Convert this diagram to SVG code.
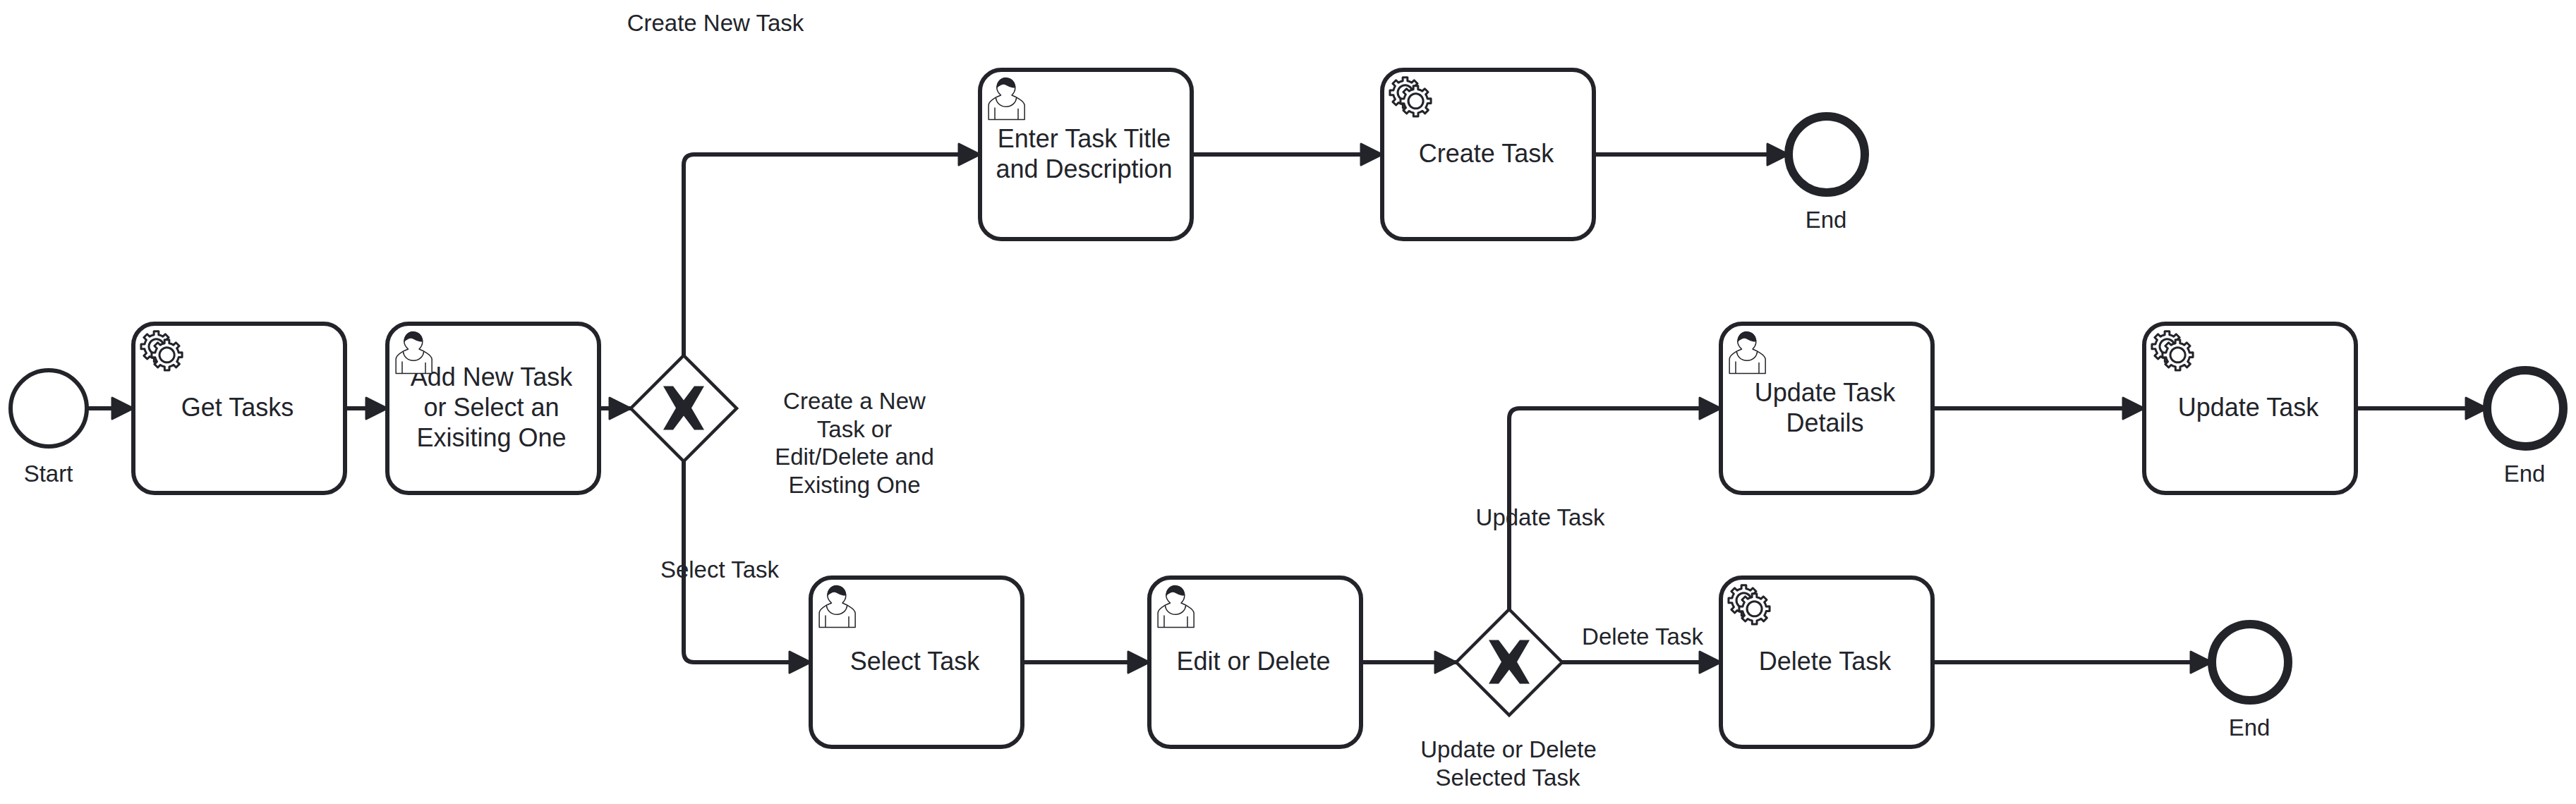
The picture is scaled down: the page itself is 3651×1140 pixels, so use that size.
<svg xmlns="http://www.w3.org/2000/svg" width="3651" height="1140" viewBox="0 0 3651 1140">
<style>
text{font-family:"Liberation Sans",Arial,sans-serif;fill:#22242a;text-anchor:middle}
.t{font-size:36px}
.l{font-size:33px}
.task{fill:#fff;stroke:#22242a;stroke-width:6}
.start{fill:#fff;stroke:#22242a;stroke-width:6}
.end{fill:#fff;stroke:#22242a;stroke-width:12}
.gw{fill:#fff;stroke:#22242a;stroke-width:4.5;stroke-linejoin:miter}
.x{fill:#22242a}
.flow{fill:none;stroke:#22242a;stroke-width:6;stroke-linejoin:round;marker-end:url(#arrow)}
.ib{fill:#fff;stroke:#22242a;stroke-width:1;stroke-linecap:round;stroke-linejoin:round}
.iu{fill:#fff;stroke:#22242a;stroke-width:.5;stroke-linecap:round;stroke-linejoin:round}
.ih{fill:#22242a;stroke:#22242a;stroke-width:.5}
</style>
<defs>
<marker id="arrow" viewBox="0 0 20 20" refX="11" refY="10" markerWidth="10" markerHeight="10" orient="auto">
<path d="M 1 5 L 11 10 L 1 15 Z" fill="#22242a" stroke="#22242a" stroke-width="1" stroke-linecap="round" stroke-linejoin="round"/>
</marker>
<path id="gearPath" d="m 0,0 v -1.71335 c 0.352326,-0.0705 0.703932,-0.17838 1.047628,-0.32133 0.344416,-0.14465 0.665822,-0.32133 0.966377,-0.52145 l 1.19431,1.18005 1.567487,-1.57688 -1.195028,-1.18014 c 0.403376,-0.61394 0.683079,-1.29908 0.825447,-2.01824 l 1.622133,-0.01 v -2.2196 l -1.636514,0.01 c -0.07333,-0.35153 -0.178319,-0.70024 -0.323564,-1.04372 -0.145244,-0.34406 -0.321407,-0.6644 -0.522735,-0.96217 l 1.131035,-1.13631 -1.583305,-1.56293 -1.129598,1.13589 c -0.614052,-0.40108 -1.302883,-0.68093 -2.022633,-0.82247 l 0.0093,-1.61852 h -2.241173 l 0.0042,1.63124 c -0.353763,0.0736 -0.705369,0.17977 -1.049785,0.32371 -0.344415,0.14437 -0.665102,0.32092 -0.9635006,0.52046 l -1.1698628,-1.15823 -1.5667691,1.5792 1.1684265,1.15669 c -0.4026573,0.61283 -0.68308,1.29797 -0.8247287,2.01713 l -1.6588041,0.003 v 2.22174 l 1.6724648,-0.006 c 0.073327,0.35077 0.1797598,0.70243 0.3242851,1.04472 0.1452428,0.34448 0.3214064,0.6644 0.5227339,0.96066 l -1.1993431,1.19723 1.5840256,1.56011 1.1964668,-1.19348 c 0.6140517,0.40346 1.3028827,0.68232 2.0233517,0.82331 l 7.19e-4,1.69892 h 2.226848 z m 0.221462,-3.9957 c -1.788948,0.7502 -3.8576,-0.0928 -4.6097055,-1.87438 -0.7521065,-1.78321 0.090598,-3.84627 1.8802645,-4.59604 1.78823,-0.74936 3.856881,0.0929 4.608987,1.87437 0.752106,1.78165 -0.0906,3.84612 -1.879546,4.59605 z"/>
<g id="gear" transform="scale(3)">
<use href="#gearPath" x="12" y="18" class="ib"/>
<path d="m 17.2,18 c -1.788948,0.7502 -3.8576,-0.0928 -4.6097055,-1.87438 -0.7521065,-1.78321 0.090598,-3.84627 1.8802645,-4.59604 1.78823,-0.74936 3.856881,0.0929 4.608987,1.87437 0.752106,1.78165 -0.0906,3.84612 -1.879546,4.59605 z" fill="#fff"/>
<use href="#gearPath" x="17" y="22" class="ib"/>
</g>
<g id="user" transform="scale(3)">
<path class="iu" d="m 15,12 c 0.909,-0.845 1.594,-2.049 1.594,-3.385 0,-2.554 -1.805,-4.62199999 -4.357,-4.62199999 -2.55199998,0 -4.28799998,2.06799999 -4.28799998,4.62199999 0,1.348 0.974,2.562 1.89599998,3.405 -0.52899998,0.187 -5.669,2.097 -5.794,4.7560005 v 6.718 h 17 v -6.718 c 0,-2.2980005 -5.5279996,-4.5950005 -6.0509996,-4.7760005 z m -8,6 l 0,5.5 m 11,0 l 0,-5"/>
<path class="iu" d="m 15,12 m 2.162,1.009 c 0,2.4470005 -2.158,4.4310005 -4.821,4.4310005 -2.66499998,0 -4.822,-1.981 -4.822,-4.4310005"/>
<path class="ih" d="m 15,12 m -6.9,-3.80 c 0,0 2.25099998,-2.358 4.27399998,-1.177 2.024,1.181 4.221,1.537 4.124,0.965 -0.098,-0.57 -0.117,-3.79099999 -4.191,-4.13599999 -3.57499998,0.001 -4.20799998,3.36699999 -4.20699998,4.34799999 z"/>
</g>
<polygon id="xmark" class="x" points="-29,-31 -15,-31 0,-11 15,-31 29,-31 11,0 29,31 15,31 0,11 -15,31 -29,31 -11,0"/>
</defs>

<g id="connectors">
<path class="flow" d="M123,579H189"/>
<path class="flow" d="M489,579H549"/>
<path class="flow" d="M849,579H894"/>
<path class="flow" d="M969,504V234Q969,219 984,219H1389"/>
<path class="flow" d="M969,654V924Q969,939 984,939H1149"/>
<path class="flow" d="M1689,219H1959"/>
<path class="flow" d="M2259,219H2535"/>
<path class="flow" d="M1449,939H1629"/>
<path class="flow" d="M1929,939H2064"/>
<path class="flow" d="M2139,864V594Q2139,579 2154,579H2439"/>
<path class="flow" d="M2214,939H2439"/>
<path class="flow" d="M2739,579H3039"/>
<path class="flow" d="M3339,579H3525"/>
<path class="flow" d="M2739,939H3135"/>
<text class="l" x="1014" y="44">Create New Task</text>
<text class="l" x="1020" y="819">Select Task</text>
<text class="l" x="2183" y="745">Update Task</text>
<text class="l" x="2328" y="914">Delete Task</text>
</g>

<g id="start"><circle class="start" cx="69" cy="579" r="54"/><text class="l" x="68.5" y="683">Start</text></g>

<g id="task-get"><rect class="task" x="189" y="459" width="300" height="240" rx="30"/><text class="t" x="336.5" y="590">Get Tasks</text><use href="#gear" transform="translate(189 459)"/></g>

<g id="task-add"><rect class="task" x="549" y="459" width="300" height="240" rx="30"/><text class="t" x="696.5" y="547">Add New Task</text><text class="t" x="696.5" y="590">or Select an</text><text class="t" x="696.5" y="633">Exisiting One</text><use href="#user" transform="translate(549 459)"/></g>

<g id="gateway-1"><polygon class="gw" points="969,504 1044,579 969,654 894,579"/><use href="#xmark" transform="translate(969 578.5)"/><text class="l" x="1211" y="580">Create a New</text><text class="l" x="1211" y="620">Task or</text><text class="l" x="1211" y="659">Edit/Delete and</text><text class="l" x="1211" y="699">Existing One</text></g>

<g id="task-enter"><rect class="task" x="1389" y="99" width="300" height="240" rx="30"/><text class="t" x="1536.5" y="209">Enter Task Title</text><text class="t" x="1536.5" y="252">and Description</text><use href="#user" transform="translate(1389 99)"/></g>

<g id="task-create"><rect class="task" x="1959" y="99" width="300" height="240" rx="30"/><text class="t" x="2106.5" y="230">Create Task</text><use href="#gear" transform="translate(1959 99)"/></g>

<g id="end-create"><circle class="end" cx="2589" cy="219" r="54"/><text class="l" x="2588" y="323">End</text></g>

<g id="task-select"><rect class="task" x="1149" y="819" width="300" height="240" rx="30"/><text class="t" x="1296.5" y="950">Select Task</text><use href="#user" transform="translate(1149 819)"/></g>

<g id="task-edit"><rect class="task" x="1629" y="819" width="300" height="240" rx="30"/><text class="t" x="1776.5" y="950">Edit or Delete</text><use href="#user" transform="translate(1629 819)"/></g>

<g id="gateway-2"><polygon class="gw" points="2139,864 2214,939 2139,1014 2064,939"/><use href="#xmark" transform="translate(2139 938.5)"/><text class="l" x="2138" y="1074">Update or Delete</text><text class="l" x="2137" y="1114">Selected Task</text></g>

<g id="task-update-details"><rect class="task" x="2439" y="459" width="300" height="240" rx="30"/><text class="t" x="2586.5" y="569">Update Task</text><text class="t" x="2586.5" y="612">Details</text><use href="#user" transform="translate(2439 459)"/></g>

<g id="task-update"><rect class="task" x="3039" y="459" width="300" height="240" rx="30"/><text class="t" x="3186.5" y="590">Update Task</text><use href="#gear" transform="translate(3039 459)"/></g>

<g id="end-update"><circle class="end" cx="3579" cy="579" r="54"/><text class="l" x="3578" y="683">End</text></g>

<g id="task-delete"><rect class="task" x="2439" y="819" width="300" height="240" rx="30"/><text class="t" x="2586.5" y="950">Delete Task</text><use href="#gear" transform="translate(2439 819)"/></g>

<g id="end-delete"><circle class="end" cx="3189" cy="939" r="54"/><text class="l" x="3188" y="1043">End</text></g>
</svg>
